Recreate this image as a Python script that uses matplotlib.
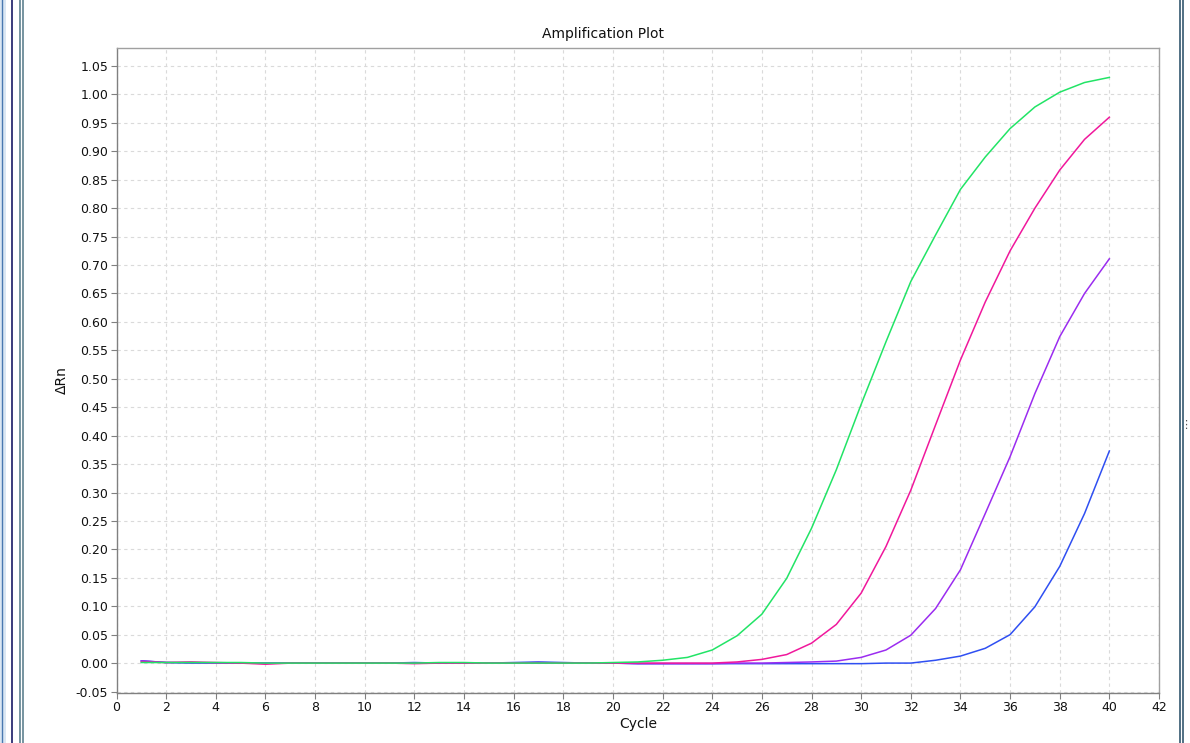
import numpy as np
import matplotlib
matplotlib.use('Agg')
import matplotlib.pyplot as plt
from matplotlib.lines import Line2D

cycles = list(range(1, 41))

# delta Rn per cycle
green = [0.001, 0.001, 0.001, 0.001, 0.001, 0.000, 0.000, 0.000, 0.000, 0.000,
         0.000, 0.000, 0.001, 0.001, 0.000, 0.000, 0.000, 0.000, 0.000, 0.001,
         0.002, 0.005, 0.010, 0.023, 0.048, 0.086, 0.149, 0.237, 0.340, 0.455,
         0.565, 0.671, 0.753, 0.833, 0.890, 0.940, 0.978, 1.004, 1.021, 1.030]
magenta = [0.002, 0.001, 0.002, 0.001, 0.000, -0.002, 0.000, 0.000, 0.000, 0.000,
           0.000, -0.001, 0.000, 0.000, 0.000, 0.000, 0.000, 0.000, 0.000, 0.000,
           0.000, 0.000, 0.000, 0.000, 0.002, 0.0065, 0.015, 0.035, 0.068, 0.123,
           0.205, 0.304, 0.419, 0.533, 0.635, 0.725, 0.800, 0.867, 0.921, 0.960]
purple = [0.004, 0.001, 0.001, 0.000, 0.000, 0.000, 0.000, 0.000, 0.000, 0.000,
          0.000, 0.000, 0.000, 0.000, 0.000, 0.000, 0.001, 0.000, 0.000, 0.000,
          -0.001, -0.001, -0.001, -0.001, 0.000, 0.000, 0.001, 0.002, 0.0035, 0.010,
          0.023, 0.049, 0.096, 0.164, 0.263, 0.363, 0.474, 0.574, 0.650, 0.711]
blue = [0.004, 0.001, 0.000, 0.000, 0.000, 0.000, 0.000, 0.000, 0.000, 0.000,
        0.000, 0.001, 0.000, 0.000, 0.000, 0.001, 0.002, 0.001, 0.000, 0.000,
        -0.001, -0.001, -0.001, -0.001, -0.001, -0.001, -0.001, -0.001, -0.001, -0.001,
        0.000, 0.000, 0.005, 0.0123, 0.026, 0.050, 0.099, 0.170, 0.263, 0.373]

fig = plt.figure(figsize=(11.9, 7.43), dpi=100)
ax = fig.add_axes([116.5 / 1190, 1 - 693 / 743, (1159 - 116.5) / 1190, (693 - 48) / 743])

ax.plot(cycles, blue, color='#2f4ff2', lw=1.1)
ax.plot(cycles, purple, color='#9b2cf0', lw=1.1)
ax.plot(cycles, magenta, color='#f0189c', lw=1.1)
ax.plot(cycles, green, color='#22e466', lw=1.1)

ax.set_xlim(0, 42)
ax.set_ylim(-0.0526, 1.0817)
ax.set_xticks(np.arange(0, 43, 2))
ax.set_yticks(np.arange(-0.05, 1.06, 0.05))
ax.set_yticklabels(['%.2f' % v for v in np.arange(-0.05, 1.06, 0.05)])
ax.grid(True, color='#dadada', linestyle=(0, (3, 3)), lw=0.8)
ax.tick_params(labelsize=9, length=4, color='#808080', pad=2, labelcolor='#111111')
for s in ax.spines.values():
    s.set_color('#a0a0a0')
    s.set_linewidth(1.0)
ax.spines['left'].set_color('#808080')
ax.spines['bottom'].set_color('#808080')

ax.set_title('Amplification Plot', fontsize=10, pad=7, color='#111111', x=0.467)
ax.set_xlabel('Cycle', fontsize=10, labelpad=2, color='#111111')
ax.set_ylabel('ΔRn', fontsize=10, color='#111111')
ax.yaxis.set_label_coords(-0.046, 0.485)

# window frame bits around the plot
fig.add_artist(plt.Rectangle((0, 0), 6 / 1190, 1, transform=fig.transFigure, color='#dbe7f3', lw=0))
for x, c, w in [(2, '#4a78b0', 1.0), (11.5, '#1a1a66', 1.2), (20, '#5f8190', 1.2), (22.5, '#5f8190', 1.2),
                (1180, '#33586e', 1.2), (1182.5, '#33586e', 1.2)]:
    fig.add_artist(Line2D([x / 1190, x / 1190], [0, 1], transform=fig.transFigure, color=c, lw=w))
fig.text(1186 / 1190, 1 - 425 / 743, '⋮', fontsize=8, color='#555555', ha='center', va='center')

fig.savefig('out.png', dpi=100)
